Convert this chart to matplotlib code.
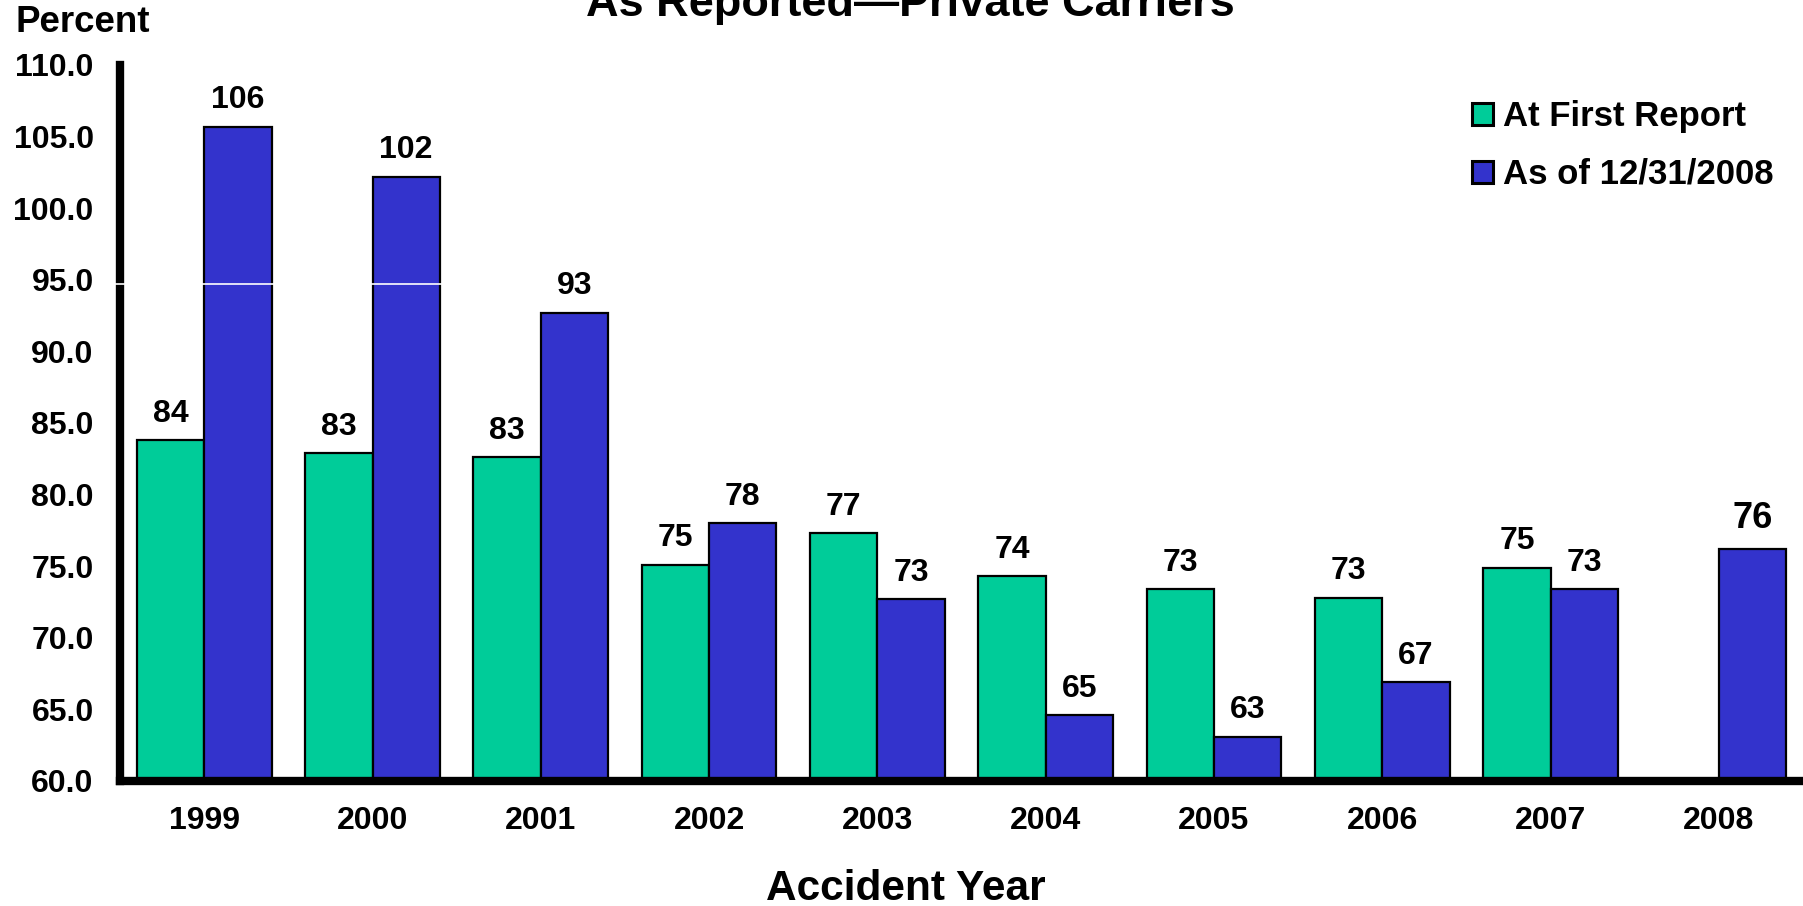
import matplotlib

matplotlib.use("Agg")
import matplotlib.pyplot as plt
import numpy as np

plt.rcParams["font.family"] = ["Liberation Sans", "DejaVu Sans"]
plt.rcParams["font.weight"] = "bold"

# accident years and combined ratios (percent)
years = ["1999", "2000", "2001", "2002", "2003", "2004", "2005", "2006", "2007", "2008"]
at_first_report = [83.8, 82.9, 82.6, 75.1, 77.3, 74.3, 73.4, 72.8, 74.9, np.nan]
as_of_2008 = [105.7, 102.2, 92.7, 78.0, 72.7, 64.6, 63.1, 66.9, 73.4, 76.2]
y_ticks = [60, 65, 70, 75, 80, 85, 90, 95, 100, 105, 110]

GREEN = "#00CC99"
BLUE = "#3333CC"

fig = plt.figure(figsize=(18.03, 9.06), dpi=100)
ax = fig.add_axes([0.0666, 0.138, 0.9334, 0.7903])

x = np.arange(len(years))
w = 0.4
first = np.array(at_first_report, dtype=float)
has_first = ~np.isnan(first)
ax.bar(x[has_first] - w / 2, first[has_first], width=w, color=GREEN,
       edgecolor="black", linewidth=1.6, label="At First Report", zorder=2)
ax.bar(x + w / 2, as_of_2008, width=w, color=BLUE,
       edgecolor="black", linewidth=1.6, label="As of 12/31/2008", zorder=2)

# value labels above the bars
for xi, v in zip(x[has_first], first[has_first]):
    ax.annotate(f"{v:.0f}", (xi - w / 2, v), xytext=(0, 19), textcoords="offset points",
                ha="center", va="center", fontsize=23, fontweight="bold")
for i, v in enumerate(as_of_2008):
    last = i == len(as_of_2008) - 1
    ax.annotate(f"{v:.0f}", (x[i] + w / 2, v), xytext=(0, 22 if last else 19),
                textcoords="offset points", ha="center", va="center",
                fontsize=26 if last else 23, fontweight="bold")

# thin white rule near 95 through the tall bars and the axis line
ax.axhline(94.7, color="white", lw=1.2, zorder=2.5, xmin=-0.004, clip_on=False)

ax.set_xlim(-0.5, 9.5)
ax.set_ylim(60, 110)
ax.set_yticks(y_ticks)
ax.set_yticklabels([f"{t:.1f}" for t in y_ticks])
ax.set_xticks(x)
ax.set_xticklabels(years)
ax.tick_params(axis="y", length=0, pad=19, labelsize=23)
ax.tick_params(axis="x", length=0, pad=18, labelsize=23)

for side in ("top", "right"):
    ax.spines[side].set_visible(False)
for side in ("left", "bottom"):
    ax.spines[side].set_linewidth(6)
    ax.spines[side].set_color("black")
    ax.spines[side].set_zorder(2.4)

leg = ax.legend(loc="upper left", bbox_to_anchor=(1472 / 1803, 1 - 100 / 906),
                bbox_transform=fig.transFigure, frameon=False, fontsize=25,
                handlelength=0.6, handleheight=0.6, handletextpad=0.3,
                labelspacing=0.72, borderpad=0, borderaxespad=0)
for t in leg.get_texts():
    t.set_fontweight("bold")
for h in leg.legend_handles:
    h.set_linewidth(2.2)

fig.text(910 / 1803, 1 - 16 / 906, "As Reported\u2014Private Carriers",
         ha="center", va="baseline", fontsize=32.5, fontweight="bold")
fig.text(15 / 1803, 1 - 23 / 906, "Percent", ha="left", va="center",
         fontsize=26.5, fontweight="bold")
fig.text(906 / 1803, 1 - 889 / 906, "Accident Year", ha="center", va="center",
         fontsize=30.5, fontweight="bold")

fig.savefig("out.png", dpi=100)
plt.close(fig)
